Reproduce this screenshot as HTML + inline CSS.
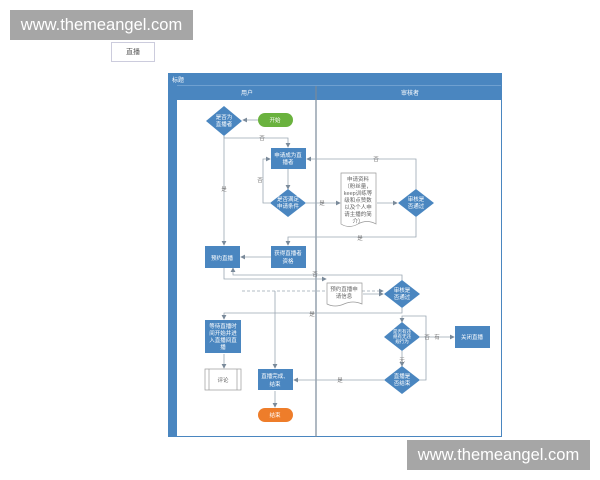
<!DOCTYPE html>
<html><head><meta charset="utf-8"><style>
body{margin:0;width:600px;height:480px;background:#fff;overflow:hidden;font-family:"Liberation Sans","Noto Sans CJK SC",sans-serif;}
.wm{position:absolute;background:#a6a6a6;color:#fff;font-size:16.5px;text-align:center;line-height:30px;}
</style></head><body>
<div class="wm" style="left:10px;top:10px;width:183px;height:30px;">www.themeangel.com</div>
<div class="wm" style="left:407px;top:440px;width:183px;height:30px;">www.themeangel.com</div>
<div style="position:absolute;left:111px;top:42px;width:44px;height:20px;border:1px solid #ccd;font-size:7px;color:#555;text-align:center;line-height:20px;box-sizing:border-box;">直播</div>
<svg width="600" height="480" style="position:absolute;left:0;top:0" font-family="Liberation Sans, Noto Sans CJK SC, sans-serif">
<defs><marker id="a" markerWidth="6" markerHeight="6" refX="5" refY="3" orient="auto"><path d="M0,0L6,3L0,6z" fill="#7a8a9a"/></marker></defs>
<rect x="168" y="73" width="334" height="364" fill="#4a86c0"/>
<rect x="177" y="100" width="324" height="336" fill="#fff"/>
<line x1="177" y1="85.5" x2="501" y2="85.5" stroke="#6fa0d0"/>
<text x="172" y="82" font-size="6" fill="#fff">标题</text>
<text x="247" y="95" font-size="6" fill="#fff" text-anchor="middle">用户</text>
<text x="410" y="95" font-size="6" fill="#fff" text-anchor="middle">审核者</text>
<line x1="316" y1="86" x2="316" y2="437" stroke="#7a8a9a" stroke-width="1.2"/>
<g stroke="#9aa6b2" stroke-width="0.8" fill="none" marker-end="url(#a)">
<path d="M258,120H243"/>
<path d="M224,136V138H288V147"/>
<path d="M224,136V245"/>
<path d="M288,169V189"/>
<path d="M270,203H263V159H270"/>
<path d="M306,203H340"/>
<path d="M377,203H397"/>
<path d="M416,189V159H307"/>
<path d="M416,217V237H288V245"/>
<path d="M271,257H241"/>
<path d="M224,268V279H326"/>
<path d="M363,294H383"/>
<path d="M402,280V275H233V268"/>
<path d="M402,308V313H224V319"/>
<path d="M242,291H383" stroke-dasharray="3,2"/>
<path d="M275,291V368"/>
<path d="M420,337H454"/>
<path d="M402,351V366"/>
<path d="M420,380H426V316H402V322"/>
<path d="M384,380H294"/>
<path d="M224,354V368"/>
<path d="M275,391V407"/>
</g>
<g font-size="5.5" fill="#777" text-anchor="middle">
<text x="262" y="140">否</text><text x="224" y="191">是</text><text x="260" y="182">否</text>
<text x="322" y="205">是</text><text x="376" y="161">否</text><text x="360" y="240">是</text>
<text x="315" y="276">否</text><text x="312" y="316">是</text>
<text x="427" y="339">否</text><text x="437" y="339">有</text><text x="402" y="362">无</text><text x="340" y="382">是</text>
</g>
<g fill="#4a86c0">
<polygon points="224,106 242,121 224,136 206,121"/>
<polygon points="288,189 306,203 288,217 270,203"/>
<polygon points="416,189 434,203 416,217 398,203"/>
<polygon points="402,280 420,294 402,308 384,294"/>
<polygon points="402,322 420,337 402,351 384,337"/>
<polygon points="402,366 420,380 402,394 384,380"/>
<rect x="271" y="148" width="35" height="21"/>
<rect x="271" y="246" width="35" height="22"/>
<rect x="205" y="246" width="35" height="22"/>
<rect x="205" y="320" width="36" height="33"/>
<rect x="455" y="326" width="35" height="22"/>
<rect x="258" y="369" width="35" height="21"/>
</g>
<rect x="258" y="113" width="35" height="14" rx="7" fill="#6ab23e"/>
<rect x="258" y="408" width="35" height="14" rx="7" fill="#ee7d2a"/>
<path d="M341,173H376V224Q367,219 358,224Q349,229 341,224Z" fill="#fff" stroke="#999" stroke-width="0.7"/>
<path d="M327,283H362V304Q353,300 344,304Q335,308 327,304Z" fill="#fff" stroke="#999" stroke-width="0.7"/>
<rect x="205" y="369" width="36" height="21" fill="#fff" stroke="#999" stroke-width="0.7"/>
<line x1="209" y1="369" x2="209" y2="390" stroke="#999" stroke-width="0.7"/><line x1="237" y1="369" x2="237" y2="390" stroke="#999" stroke-width="0.7"/>
<g font-size="5.5" fill="#fff" text-anchor="middle">
<text x="224" y="119">是否为</text><text x="224" y="126">直播者</text>
<text x="275" y="122">开始</text>
<text x="288" y="157">申请成为直</text><text x="288" y="164">播者</text>
<text x="288" y="201">是否满足</text><text x="288" y="208">申请条件</text>
<text x="416" y="201">审核是</text><text x="416" y="208">否通过</text>
<text x="288" y="255">获得直播者</text><text x="288" y="263">资格</text>
<text x="222" y="260">预约直播</text>
<text x="402" y="292">审核是</text><text x="402" y="299">否通过</text>
<text x="223" y="328">等待直播时</text><text x="223" y="335">间开始并进</text><text x="223" y="342">入直播间直</text><text x="223" y="349">播</text>
<text x="402" y="333" font-size="4.5">是否有违</text><text x="402" y="338" font-size="4.5">规有无违</text><text x="402" y="343" font-size="4.5">规行为</text>
<text x="472" y="339">关闭直播</text>
<text x="402" y="378">直播是</text><text x="402" y="385">否结束</text>
<text x="275" y="378">直播完成、</text><text x="275" y="386">结束</text>
<text x="275" y="417">结束</text>
</g>
<g font-size="5.5" fill="#666" text-anchor="middle">
<text x="358" y="181">申请资料</text><text x="358" y="188">（粉丝量，</text><text x="358" y="195">keep训练等</text><text x="358" y="202">级和点赞数</text><text x="358" y="209">以及个人申</text><text x="358" y="216">请主播的简</text><text x="358" y="223">介）</text>
<text x="344" y="291">预约直播申</text><text x="344" y="298">请信息</text>
<text x="223" y="382">评论</text>
</g>
</svg>
</body></html>
